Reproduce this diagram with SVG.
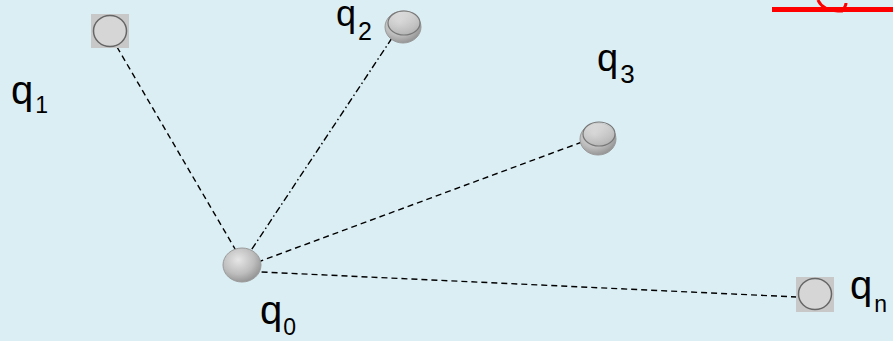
<svg xmlns="http://www.w3.org/2000/svg" width="893" height="341" viewBox="0 0 893 341">
<defs>
<radialGradient id="g3d" cx="0.4" cy="0.35" r="0.7">
<stop offset="0" stop-color="#e6e6e6"/>
<stop offset="0.6" stop-color="#bdbdbd"/>
<stop offset="1" stop-color="#8f8f8f"/>
</radialGradient>
<linearGradient id="rim" x1="0" y1="0" x2="0" y2="1">
<stop offset="0" stop-color="#e8e8e8"/>
<stop offset="1" stop-color="#b0b0b0"/>
</linearGradient>
</defs>
<style>
.lbl{font-family:"Liberation Sans","DejaVu Sans",sans-serif;font-size:40px;fill:#000}
.sub{font-size:23px}
.flat{fill:#d6d6d6;stroke:#666;stroke-width:1.5}
.sq{fill:#c8c8c8}
.ball{fill:url(#g3d);stroke:#9a9a9a;stroke-width:1}
.top{fill:url(#rim);stroke:#777;stroke-width:1.2}
.c{stroke:#000;stroke-width:1.4;fill:none;stroke-dasharray:6 4}
.dd{stroke-dasharray:7 3 1.5 3}
</style>
<rect width="893" height="341" fill="#dbeef4"/>
<g id="redmark">
<rect x="772" y="7" width="121" height="5" fill="#ff0000"/>
<path d="M818 0 Q822 10 838 11 L842 11 Q846 6 846 3" fill="none" stroke="#ff0000" stroke-width="3"/>
</g>
<g id="connectors">
<line class="c" x1="117" y1="47" x2="238" y2="254"/>
<line class="c dd" x1="392" y1="38" x2="250" y2="252"/>
<line class="c" x1="582" y1="142" x2="258" y2="262"/>
<line class="c" x1="797" y1="297" x2="261" y2="272"/>
</g>
<g id="q1">
<rect class="sq" x="91" y="14" width="38" height="34"/>
<ellipse class="flat" cx="110" cy="31" rx="16.5" ry="15.5"/>
<text class="lbl" x="11" y="104">q<tspan class="sub" dx="2" dy="9">1</tspan></text>
</g>
<g id="q2">
<ellipse class="ball" cx="403" cy="27" rx="18" ry="16"/>
<ellipse class="top" cx="404" cy="23" rx="16" ry="12" fill-opacity="0.6"/>
<text class="lbl" x="336" y="26" style="font-size:36px">q<tspan class="sub" dx="2" dy="14" style="font-size:25px">2</tspan></text>
</g>
<g id="q3">
<ellipse class="ball" cx="598" cy="139" rx="18" ry="16"/>
<ellipse class="top" cx="599" cy="134" rx="16" ry="12" fill-opacity="0.6"/>
<text class="lbl" x="597" y="71" style="font-size:38px">q<tspan class="sub" dx="2" dy="12" style="font-size:26px">3</tspan></text>
</g>
<g id="q0">
<ellipse class="ball" cx="242" cy="265" rx="19" ry="17"/>
<text class="lbl" x="260" y="324">q<tspan class="sub" dx="1" dy="11">0</tspan></text>
</g>
<g id="qn">
<rect class="sq" x="796" y="277" width="38" height="35"/>
<ellipse class="flat" cx="815" cy="294" rx="16.5" ry="15.5"/>
<text class="lbl" x="850" y="299">q<tspan class="sub" dx="2" dy="13">n</tspan></text>
</g>
</svg>
